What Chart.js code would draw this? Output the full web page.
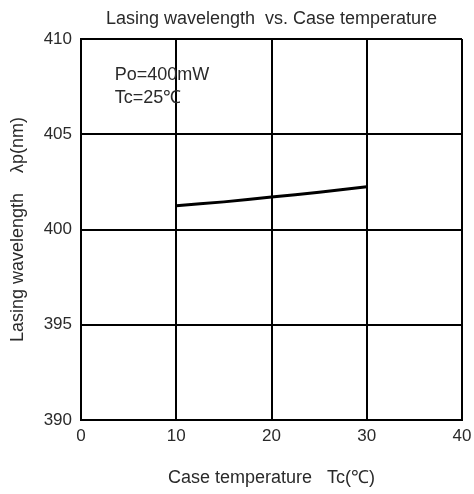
<!DOCTYPE html>
<html>
<head>
<meta charset="utf-8">
<script src="https://cdn.jsdelivr.net/npm/chart.js@4"></script>
<style>
  body { margin: 0; background: #fff; }
  canvas { display: block; }
</style>
</head>
<body>
<canvas id="chart" width="474" height="494"></canvas>
<script>
// data
const temps = [10, 15, 20, 25, 30];
const wavelengths = [401.25, 401.45, 401.7, 401.95, 402.25];
const xTicks = [0, 10, 20, 30, 40];
const yTicks = [390, 395, 400, 405, 410];
const noteLines = ['Po=400mW', 'Tc=25\u2103'];
const noteAt = { x: 3.55, y: [408.1, 406.9] };

const textColor = '#2a2a2a';
const fontFamily = "'Liberation Sans', Arial, sans-serif";

const notePlugin = {
    id: 'notes',
    afterDatasetsDraw(chart){
        const ctx = chart.ctx;
        const xs = chart.scales.x, ys = chart.scales.y;
        ctx.save();
        ctx.fillStyle = textColor;
        ctx.font = '18px ' + fontFamily;
        ctx.textAlign = 'left';
        ctx.textBaseline = 'middle';
        noteLines.forEach(function(t, i){
            ctx.fillText(t, xs.getPixelForValue(noteAt.x), ys.getPixelForValue(noteAt.y[i]));
        });
        ctx.restore();
    }
};

new Chart(document.getElementById('chart'), {
    type: 'line',
    data: {
        datasets: [{
            data: temps.map((t, i) => ({x: t, y: wavelengths[i]})),
            borderColor: '#000',
            borderWidth: 3,
            pointRadius: 0,
            tension: 0.3,
            fill: false
        }]
    },
    options: {
        responsive: false,
        animation: false,
        layout: { padding: { left: 0, right: 12, top: 0, bottom: 0 } },
        plugins: {
            legend: { display: false },
            tooltip: { enabled: false },
            title: {
                display: true,
                text: 'Lasing wavelength  vs. Case temperature',
                color: textColor,
                fullSize: false,
                font: { family: fontFamily, size: 18, weight: 'normal' },
                padding: { top: 8, bottom: 9.4 }
            }
        },
        scales: {
            x: {
                type: 'linear',
                min: 0,
                max: 40,
                afterBuildTicks(scale){ scale.ticks = xTicks.map(v => ({value: v})); },
                afterFit(scale){
                    scale.height = 74;
                    scale.paddingLeft = 0;
                    scale.paddingRight = 0;
                },
                ticks: { color: textColor, font: { family: fontFamily, size: 17 }, padding: 6 },
                grid: { color: '#000', lineWidth: 2, drawTicks: false },
                border: { color: '#000', width: 2 },
                title: {
                    display: true,
                    text: 'Case temperature   Tc(\u2103)',
                    color: textColor,
                    font: { family: fontFamily, size: 18 },
                    padding: { top: 5, bottom: 5 }
                }
            },
            y: {
                min: 390,
                max: 410,
                afterBuildTicks(scale){ scale.ticks = yTicks.map(v => ({value: v})); },
                afterFit(scale){ scale.width = 81; },
                ticks: { color: textColor, font: { family: fontFamily, size: 17 }, padding: 9 },
                grid: { color: '#000', lineWidth: 2, drawTicks: false },
                border: { color: '#000', width: 2 },
                title: {
                    display: true,
                    text: 'Lasing wavelength    \u03bbp(nm)',
                    color: textColor,
                    font: { family: fontFamily, size: 18 },
                    padding: { top: 7, bottom: 7 }
                }
            }
        }
    },
    plugins: [notePlugin]
});
</script>
</body>
</html>
